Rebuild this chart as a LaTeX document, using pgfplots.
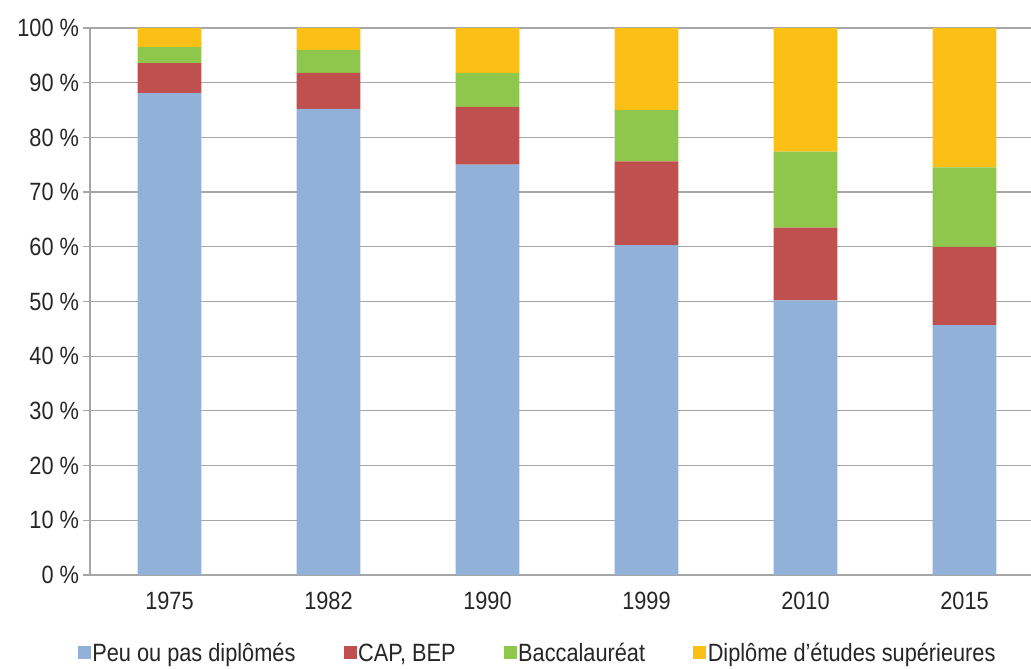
\documentclass[border=0pt]{standalone}
\usepackage{pgfplots}
\pgfplotsset{compat=1.18}
\usepackage{fontspec}
\setmainfont{Liberation Sans}
\definecolor{cblue}{HTML}{92B1D8}
\definecolor{cred}{HTML}{C0504D}
\definecolor{cgreen}{HTML}{8EC74B}
\definecolor{cyellow}{HTML}{FCBF15}
\definecolor{gridgray}{HTML}{A6A6A6}
\begin{document}
\begin{tikzpicture}
\begin{axis}[
  scale only axis,
  width=954pt, height=547pt,
  at={(0,0)}, anchor=south west,
  ybar stacked,
  bar width=0.4,
  xmin=-0.5, xmax=5.5,
  ymin=0, ymax=100,
  xtick={0,1,2,3,4,5},
  xticklabels={1975,1982,1990,1999,2010,2015},
  extra x ticks={-0.5,0.5,1.5,2.5,3.5,4.5,5.5},
  extra x tick labels={},
  extra x tick style={major tick length=7pt, tick style={gridgray, line width=1pt}, grid=none},
  ytick={0,10,...,100},
  yticklabels={0 \%,10 \%,20 \%,30 \%,40 \%,50 \%,60 \%,70 \%,80 \%,90 \%,100 \%},
  ymajorgrids,
  grid style={gridgray, line width=1.2pt},
  axis x line*=bottom,
  axis y line*=left,
  axis line style={gridgray, line width=1.2pt, -},
  x tick style={draw=none},
  y tick style={gridgray, line width=1.2pt},
  major tick length=7pt,
  tick align=outside,
  ticklabel style={font=\fontsize{25}{28}\selectfont, xscale=0.87, text=black!85},
  xticklabel style={yshift=-7pt},
  yticklabel style={xshift=-1pt},
  legend columns=4,
  legend style={at={(0.469,-0.143)}, anchor=center, draw=none, fill=none,
    font=\fontsize{25}{28}\selectfont, text=black!85,
    nodes={xscale=0.87, inner xsep=1.5pt},
    /tikz/every even column/.append style={column sep=47pt}},
  legend image code/.code={\fill[#1] (0pt,-6pt) rectangle (13pt,7pt);},
]
\addplot[fill=cblue, draw=none] coordinates {(0,88.1) (1,85.2) (2,75.0) (3,60.3) (4,50.2) (5,45.7)};
\addplot[fill=cred, draw=none] coordinates {(0,5.5) (1,6.6) (2,10.6) (3,15.3) (4,13.3) (5,14.3)};
\addplot[fill=cgreen, draw=none] coordinates {(0,2.9) (1,4.2) (2,6.2) (3,9.4) (4,13.9) (5,14.5)};
\addplot[fill=cyellow, draw=none] coordinates {(0,3.5) (1,4.0) (2,8.2) (3,15.0) (4,22.6) (5,25.5)};
\legend{Peu ou pas diplômés, {CAP, BEP}, Baccalauréat, Diplôme d’études supérieures}
\end{axis}
\pgfresetboundingbox
\path[use as bounding box] (-90pt,-94pt) rectangle (941pt,575pt);
\end{tikzpicture}
\end{document}
